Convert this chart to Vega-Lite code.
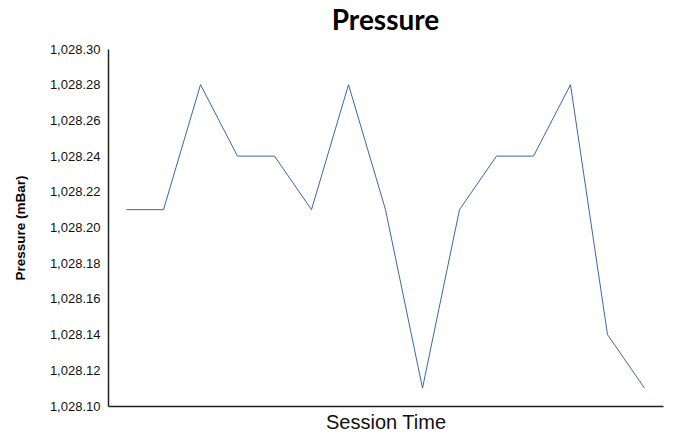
{
  "$schema": "https://vega.github.io/schema/vega-lite/v6.json",
  "width": 555,
  "height": 357,
  "autosize": {"type": "none"},
  "padding": {"left": 108, "top": 49, "right": 11, "bottom": 28},
  "background": "white",
  "title": {
    "text": "Pressure",
    "font": "Lato",
    "fontSize": 28,
    "fontWeight": "bold",
    "color": "#000000",
    "anchor": "middle",
    "offset": 7
  },
  "config": {
    "view": {"stroke": null},
    "axis": {"grid": false, "labelFont": "Liberation Sans", "titleFont": "Liberation Sans"}
  },
  "data": {
    "values": [
      {"t": 1, "p": 1028.21},
      {"t": 2, "p": 1028.21},
      {"t": 3, "p": 1028.28},
      {"t": 4, "p": 1028.24},
      {"t": 5, "p": 1028.24},
      {"t": 6, "p": 1028.21},
      {"t": 7, "p": 1028.28},
      {"t": 8, "p": 1028.21},
      {"t": 9, "p": 1028.11},
      {"t": 10, "p": 1028.21},
      {"t": 11, "p": 1028.24},
      {"t": 12, "p": 1028.24},
      {"t": 13, "p": 1028.28},
      {"t": 14, "p": 1028.14},
      {"t": 15, "p": 1028.11}
    ]
  },
  "mark": {"type": "line", "color": "#3d66a8", "strokeWidth": 1},
  "encoding": {
    "x": {
      "field": "t",
      "type": "ordinal",
      "scale": {"type": "point", "padding": 0.5},
      "title": "Session Time",
      "axis": {
        "labels": false,
        "ticks": false,
        "domainColor": "#222222",
        "domainWidth": 1.5,
        "titleFontSize": 20,
        "titleFontWeight": "normal",
        "titleColor": "#111111",
        "titlePadding": 6
      }
    },
    "y": {
      "field": "p",
      "type": "quantitative",
      "scale": {"domain": [1028.1, 1028.3], "zero": false, "nice": false},
      "title": "Pressure (mBar)",
      "axis": {
        "values": [1028.1, 1028.12, 1028.14, 1028.16, 1028.18, 1028.2, 1028.22, 1028.24, 1028.26, 1028.28, 1028.3],
        "format": ",.2f",
        "ticks": false,
        "labelPadding": 8,
        "labelFontSize": 13,
        "labelColor": "#111111",
        "domainColor": "#222222",
        "domainWidth": 1.5,
        "titleFontSize": 13.5,
        "titleFontWeight": "bold",
        "titleColor": "#000000",
        "titlePadding": 22
      }
    }
  }
}
